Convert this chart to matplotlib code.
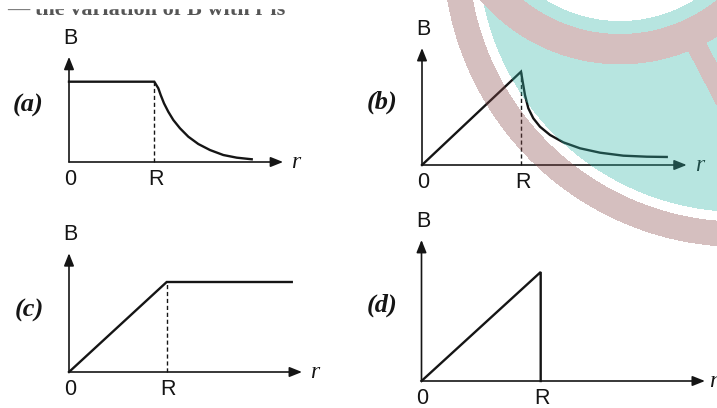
import matplotlib.pyplot as plt
import numpy as np
from matplotlib.patches import Rectangle

# curve values (r in units of R, B in units of B(R))
a_r = [0, 1.0, 1.047, 1.075, 1.114, 1.164, 1.223, 1.301, 1.399, 1.516, 1.653, 1.809, 1.966, 2.142]
a_B = [1.0, 1.0, 0.918, 0.834, 0.730, 0.626, 0.523, 0.420, 0.315, 0.224, 0.149, 0.087, 0.054, 0.034]

b_r = [0, 1.0, 1.017, 1.040, 1.074, 1.124, 1.192, 1.293, 1.427, 1.596, 1.798, 2.033, 2.270, 2.472]
b_B = [0, 1.0, 0.893, 0.750, 0.608, 0.501, 0.410, 0.322, 0.243, 0.179, 0.132, 0.100, 0.089, 0.086]

c_r = [0, 1.0, 2.28]
c_B = [0, 1.0, 1.0]

d_r = [0, 1.0, 1.0]
d_B = [0, 1.0, 0]

panel_names = ['(a)', '(b)', '(c)', '(d)']
header = '\u2014 the variation of B with r is'

W, H = 717, 408
ink = '#151515'

fig = plt.figure(figsize=(W / 100, H / 100), dpi=100)

# background layer: cut-off line of text at the top
ax_bg = fig.add_axes([0, 0, 1, 1], zorder=0)
ax_bg.set_xlim(0, W)
ax_bg.set_ylim(H, 0)
ax_bg.axis('off')
ax_bg.text(7, 15, header, fontsize=16, family='Liberation Serif', weight='bold',
           color='#555555', va='baseline', ha='left')
ax_bg.add_patch(Rectangle((0, 0), W, 8, color='white', zorder=5))

# layout of each small graph in pixels: origin, size of R and B(R), axis ends in data units
panels = [
    dict(r=a_r, B=a_B, origin=(69, 162), R_px=85.3, B_px=80.3, r_end=2.51, B_end=1.31,
         dashed=True, name_xy=(28, 105), r_off=9),
    dict(r=b_r, B=b_B, origin=(422, 165), R_px=99.0, B_px=93.3, r_end=2.674, B_end=1.254,
         dashed=True, name_xy=(382, 102), r_off=9),
    dict(r=c_r, B=c_B, origin=(69, 372), R_px=97.7, B_px=90.0, r_end=2.385, B_end=1.32,
         dashed=True, name_xy=(29, 310), r_off=9),
    dict(r=d_r, B=d_B, origin=(421.5, 381), R_px=119.2, B_px=109.0, r_end=2.378, B_end=1.294,
         dashed=False, name_xy=(382, 305), r_off=6),
]

arrow = dict(arrowstyle='-|>,head_length=0.75,head_width=0.3', lw=1.2, color=ink,
             shrinkA=0, shrinkB=0)

for p, name in zip(panels, panel_names):
    ox, oy = p['origin']
    w = p['r_end'] * p['R_px']
    h = p['B_end'] * p['B_px']
    ax = fig.add_axes([ox / W, 1 - oy / H, w / W, h / H], zorder=1)
    ax.set_xlim(0, p['r_end'])
    ax.set_ylim(0, p['B_end'])
    ax.axis('off')

    ax.annotate('', xy=(p['r_end'], 0), xytext=(0, 0), arrowprops=arrow, annotation_clip=False)
    ax.annotate('', xy=(0, p['B_end']), xytext=(0, 0), arrowprops=arrow, annotation_clip=False)

    if p['dashed']:
        ax.plot([1, 1], [0, 1], color=ink, lw=1.0, ls=(0, (3, 2)), clip_on=False)
    ax.plot(p['r'], p['B'], color=ink, lw=1.7, clip_on=False, solid_joinstyle='miter')

    lab = dict(textcoords='offset points', ha='center', va='center', fontsize=15.5,
               family='Liberation Sans', color=ink, annotation_clip=False)
    ax.annotate('B', xy=(0, p['B_end']), xytext=(1, 13.5), **lab)
    ax.annotate('0', xy=(0, 0), xytext=(0.5, -12.5), **lab)
    ax.annotate('R', xy=(1, 0), xytext=(1.2, -12.5), **lab)
    ax.annotate('r', xy=(p['r_end'], 0), xytext=(p['r_off'], -0.5), textcoords='offset points',
                ha='center', va='center', fontsize=17, family='Liberation Serif',
                style='italic', color=ink, annotation_clip=False)

    nx, ny = p['name_xy']
    fig.text(nx / W, 1 - ny / H, name, ha='center', va='center', fontsize=19,
             family='Liberation Serif', style='italic', weight='bold', color=ink)

# watermark logo laid over the figure
yy, xx = np.mgrid[0:H, 0:W] + 0.5
d1 = np.hypot(xx - 740, yy + 50)
d2 = np.hypot(xx - 620, yy + 120)
p0 = np.array([692.0, 37.0])
p1 = np.array([727.0, 104.0])
seg = p1 - p0
t = np.clip(((xx - p0[0]) * seg[0] + (yy - p0[1]) * seg[1]) / (seg @ seg), 0, 1)
d_spoke = np.hypot(xx - (p0[0] + t * seg[0]), yy - (p0[1] + t * seg[1]))

teal = (d1 < 262) & (d2 >= 141)
maroon = ((d1 >= 271.6) & (d1 < 297)) \
    | ((d2 >= 154) & (d2 < 184.4) & (d1 < 271.6)) \
    | ((d_spoke < 10) & (d2 >= 154) & (d1 < 262))

wm = np.zeros((H, W, 4))
wm[teal] = [0.20, 0.71, 0.66, 0.35]
wm[maroon] = [0.54, 0.29, 0.29, 0.35]

ax_wm = fig.add_axes([0, 0, 1, 1], zorder=5)
ax_wm.imshow(wm, extent=(0, W, H, 0), interpolation='bilinear')
ax_wm.set_xlim(0, W)
ax_wm.set_ylim(H, 0)
ax_wm.axis('off')

fig.savefig('out.png', dpi=100, facecolor='white')
